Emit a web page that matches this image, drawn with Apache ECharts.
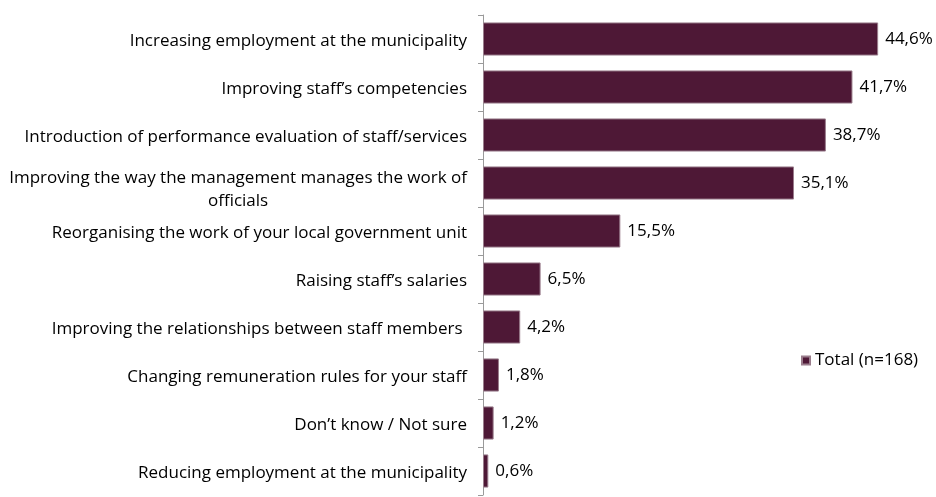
<!DOCTYPE html>
<html>
<head>
<meta charset="utf-8">
<script src="https://cdn.jsdelivr.net/npm/echarts@6/dist/echarts.min.js"></script>
<style>
  html, body { margin: 0; padding: 0; background: #fff; }
  #chart { width: 936px; height: 497px; }
</style>
</head>
<body>
<div id="chart"></div>
<script>
// Survey answers, listed top to bottom
const categories = [
  'Increasing employment at the municipality',
  'Improving staff\u2019s competencies',
  'Introduction of performance evaluation of staff/services',
  'Improving the way the management manages the work of\nofficials',
  'Reorganising the work of your local government unit',
  'Raising staff\u2019s salaries',
  'Improving the relationships between staff members ',
  'Changing remuneration rules for your staff',
  'Don\u2019t know / Not sure',
  'Reducing employment at the municipality'
];
// Share of respondents, %
const totalValues = [44.6, 41.7, 38.7, 35.1, 15.5, 6.5, 4.2, 1.8, 1.2, 0.6];
const seriesName = 'Total (n=168)';

const FONT = '"Open Sans", "Noto Sans", sans-serif';
const chart = echarts.init(document.getElementById('chart'));

// Wrapped category names keep each line centred inside the label block,
// and sit slightly lower in their band
function categoryLabel(name) {
  if (name.indexOf('\n') < 0) return name;
  return name.split('\n').map(line => '{c|' + line + '}').join('\n');
}

chart.setOption({
  animation: false,
  backgroundColor: '#ffffff',
  textStyle: { fontFamily: FONT },
  grid: { left: 483, top: 15, width: 443, bottom: 2, containLabel: false },
  legend: {
    data: [seriesName],
    left: 796,
    top: 347,
    icon: 'rect',
    itemWidth: 8,
    itemHeight: 8,
    itemGap: 4,
    textStyle: { fontFamily: FONT, fontSize: 17, color: '#000' }
  },
  xAxis: {
    type: 'value',
    min: 0,
    max: 50,
    show: false
  },
  yAxis: {
    type: 'category',
    inverse: true,
    data: categories,
    axisLine: { show: true, lineStyle: { color: '#9a9a9a', width: 1 } },
    axisTick: { show: true, length: 5, lineStyle: { color: '#9a9a9a' } },
    axisLabel: {
      margin: 16,
      fontFamily: FONT,
      fontSize: 17,
      color: '#000',
      lineHeight: 23,
      align: 'right',
      padding: [4, 0, 0, 0],
      formatter: categoryLabel,
      rich: {
        c: {
          align: 'center',
          fontFamily: FONT,
          fontSize: 17,
          color: '#000',
          lineHeight: 23,
          padding: [10, 0, 0, 0]
        }
      }
    },
    splitLine: { show: false }
  },
  series: [{
    name: seriesName,
    type: 'bar',
    data: totalValues,
    barCategoryGap: '31%',
    itemStyle: { color: '#4e1836', borderColor: '#9a7d8c', borderWidth: 1 },
    label: {
      show: true,
      position: 'right',
      distance: 7,
      fontFamily: FONT,
      fontSize: 17,
      color: '#000',
      formatter: p => p.value.toFixed(1).replace('.', ',') + '%'
    }
  }]
});
</script>
</body>
</html>
